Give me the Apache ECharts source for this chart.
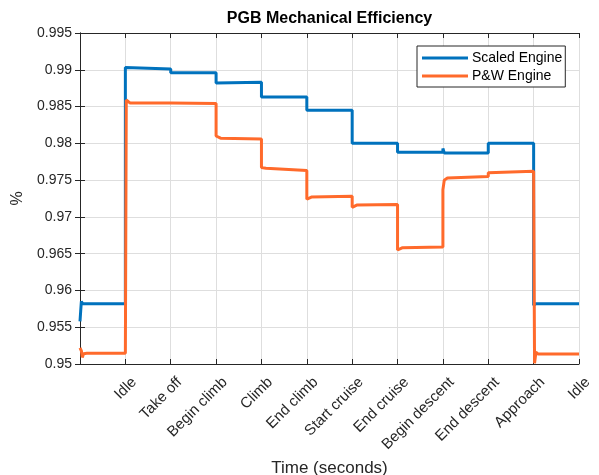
<!DOCTYPE html>
<html>
<head>
<meta charset="utf-8">
<script src="https://cdn.jsdelivr.net/npm/echarts@6/dist/echarts.min.js"></script>
<style>
html,body{margin:0;padding:0;background:#fff;}
#chart{width:599px;height:475px;}
</style>
</head>
<body>
<div id="chart"></div>
<script>
// ---- data ----
var phaseLabels = ['Idle', 'Take off', 'Begin climb', 'Climb', 'End climb', 'Start cruise',
  'End cruise', 'Begin descent', 'End descent', 'Approach', 'Idle'];
var yTicks = [0.95, 0.955, 0.96, 0.965, 0.97, 0.975, 0.98, 0.985, 0.99, 0.995];

var scaledTime = [0, 0.015, 0.03, 0.06, 1.0, 1.0, 1.04, 2.0, 2.0, 2.03, 3.0, 3.0, 3.03, 4.0, 4.0, 5.0, 5.0, 6.0, 6.0, 7.0, 7.0, 8.0, 8.0, 8.03, 9.0, 9.0, 10.0, 10.0, 10.05, 11.0];
var scaledValue = [0.9558, 0.9572, 0.9585, 0.9582, 0.9582, 0.9903, 0.9901, 0.9901, 0.9896, 0.9896, 0.9896, 0.9882, 0.9884, 0.9883, 0.9863, 0.9863, 0.9845, 0.9845, 0.9800, 0.9800, 0.9788, 0.9788, 0.9793, 0.9787, 0.9787, 0.9800, 0.9800, 0.9580, 0.9582, 0.9582];

var pwTime = [0, 0.03, 0.05, 0.08, 0.15, 1.0, 1.02, 1.1, 2.0, 3.0, 3.0, 3.1, 4.0, 4.0, 4.1, 5.0, 5.0, 5.1, 6.0, 6.0, 6.1, 7.0, 7.0, 7.1, 8.0, 8.0, 8.03, 8.1, 9.0, 9.0, 9.04, 10.0, 10.02, 10.05, 10.1, 11.0];
var pwValue = [0.9522, 0.9518, 0.9509, 0.9514, 0.95145, 0.95145, 0.9859, 0.9855, 0.98548, 0.9854, 0.9810, 0.9807, 0.9806, 0.9767, 0.9766, 0.9763, 0.9724, 0.9727, 0.9728, 0.9713, 0.9716, 0.9717, 0.9655, 0.9658, 0.9659, 0.9737, 0.9750, 0.9753, 0.9755, 0.9760, 0.9762, 0.9762, 0.9501, 0.9516, 0.95135, 0.95135];

var seriesNames = ['Scaled Engine', 'P&W Engine'];
var seriesColors = ['#0072BD', '#FF6A2B'];
var xTitle = 'Time (seconds)';
var yTitle = '%';
var chartTitle = 'PGB Mechanical Efficiency';

function pairs(t, v) { return t.map(function (x, i) { return [x, v[i]]; }); }

var FONT = "'Liberation Sans', Arial, Helvetica, sans-serif";
var TXT = '#262626';
var GRIDC = '#DEDEDE';

var chart = echarts.init(document.getElementById('chart'), null, {renderer: 'canvas'});

var axisLineStyle = {show: true, lineStyle: {color: TXT, width: 1}};
var tickStyle = {show: true, inside: true, length: 5, lineStyle: {color: TXT, width: 1}};

chart.setOption({
  animation: false,
  backgroundColor: '#ffffff',
  title: {
    text: chartTitle,
    left: 329.5,
    top: 11,
    textAlign: 'center',
    padding: 0,
    textStyle: {fontFamily: FONT, fontSize: 16, fontWeight: 'bold', color: '#000'}
  },
  legend: {
    data: seriesNames,
    orient: 'vertical',
    left: 417,
    top: 46,
    icon: 'rect',
    itemWidth: 46,
    itemHeight: 3,
    itemGap: 4,
    padding: [5, 3, 4, 5],
    borderColor: TXT,
    borderWidth: 1,
    backgroundColor: '#fff',
    textStyle: {fontFamily: FONT, fontSize: 14, color: '#000', padding: [0, 0, 0, -1]}
  },
  grid: {left: 80, right: 20, top: 33, bottom: 111, containLabel: false, outerBoundsMode: 'none'},
  xAxis: [{
    type: 'value',
    min: 0, max: 11, interval: 1,
    position: 'bottom',
    name: xTitle,
    nameLocation: 'middle',
    nameGap: 93,
    nameTextStyle: {fontFamily: FONT, fontSize: 17, color: TXT},
    axisLine: axisLineStyle,
    axisTick: tickStyle,
    splitLine: {show: true, lineStyle: {color: GRIDC, width: 1}},
    axisLabel: {
      show: true,
      rotate: 45,
      margin: 7,
      verticalAlign: 'top',
      padding: [5, 0, 0, 0],
      fontFamily: FONT, fontSize: 15, color: TXT,
      showMinLabel: true, showMaxLabel: true,
      formatter: function (v) {
        var i = Math.round(v);
        return i >= 1 ? phaseLabels[i - 1] : '';
      }
    }
  }, {
    type: 'value',
    min: 0, max: 11, interval: 1,
    position: 'top',
    axisLine: axisLineStyle,
    axisTick: tickStyle,
    splitLine: {show: false},
    axisLabel: {show: false}
  }],
  yAxis: [{
    type: 'value',
    min: yTicks[0], max: yTicks[yTicks.length - 1], interval: 0.005,
    position: 'left',
    name: yTitle,
    nameLocation: 'middle',
    nameGap: 52,
    nameRotate: 90,
    nameTextStyle: {fontFamily: FONT, fontSize: 16, color: TXT},
    axisLine: axisLineStyle,
    axisTick: tickStyle,
    splitLine: {show: true, lineStyle: {color: GRIDC, width: 1}},
    axisLabel: {
      margin: 8,
      fontFamily: FONT, fontSize: 14, color: TXT,
      formatter: function (v) { return String(parseFloat(v.toFixed(3))); }
    }
  }, {
    type: 'value',
    min: yTicks[0], max: yTicks[yTicks.length - 1], interval: 0.005,
    position: 'right',
    axisLine: axisLineStyle,
    axisTick: tickStyle,
    splitLine: {show: false},
    axisLabel: {show: false}
  }],
  series: [{
    name: seriesNames[0],
    type: 'line',
    xAxisIndex: 0, yAxisIndex: 0,
    data: pairs(scaledTime, scaledValue),
    showSymbol: false,
    symbol: 'none',
    color: seriesColors[0],
    lineStyle: {color: seriesColors[0], width: 3},
    z: 3
  }, {
    name: seriesNames[1],
    type: 'line',
    xAxisIndex: 0, yAxisIndex: 0,
    data: pairs(pwTime, pwValue),
    showSymbol: false,
    symbol: 'none',
    color: seriesColors[1],
    lineStyle: {color: seriesColors[1], width: 3},
    z: 4
  }]
});
</script>
</body>
</html>
